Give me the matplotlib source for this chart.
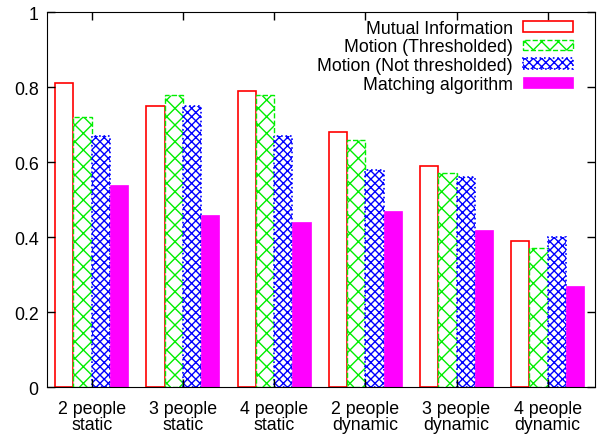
import numpy as np
import matplotlib.pyplot as plt

plt.rcParams['font.family'] = ['Liberation Sans', 'DejaVu Sans']
plt.rcParams['hatch.linewidth'] = 1.0

groups = ['2 people\nstatic', '3 people\nstatic', '4 people\nstatic',
          '2 people\ndynamic', '3 people\ndynamic', '4 people\ndynamic']
mutual_info = [0.81, 0.75, 0.79, 0.68, 0.59, 0.39]
motion_thr = [0.72, 0.78, 0.78, 0.66, 0.57, 0.37]
motion_nothr = [0.67, 0.75, 0.67, 0.58, 0.56, 0.40]
matching = [0.54, 0.46, 0.44, 0.47, 0.42, 0.27]

x = np.arange(len(groups))
w = 0.2

fig = plt.figure(figsize=(6.03, 4.35), dpi=100)
ax = fig.add_axes([0.078, 0.108, 0.909, 0.862])

ax.bar(x - 1.5 * w, mutual_info, w, facecolor='white', edgecolor='red',
       linewidth=1.2, label='Mutual Information')
ax.bar(x - 0.5 * w, motion_thr, w, facecolor='white', edgecolor='#00ee00',
       hatch='xx', linestyle='--', linewidth=1.0, label='Motion (Thresholded)')
ax.bar(x + 0.5 * w, motion_nothr, w, facecolor='white', edgecolor='blue',
       hatch='xxxx', linestyle=':', linewidth=1.2, label='Motion (Not thresholded)')
ax.bar(x + 1.5 * w, matching, w, facecolor='magenta', edgecolor='magenta',
       linewidth=0.5, label='Matching algorithm')

ax.set_xlim(-0.49, 5.52)
ax.set_ylim(0, 1)
ax.set_xticks(x)
ax.set_xticklabels(groups, fontsize=12.8, linespacing=0.95)
ax.set_yticks([0, 0.2, 0.4, 0.6, 0.8, 1.0])
ax.set_yticklabels(['0', '0.2', '0.4', '0.6', '0.8', '1'], fontsize=12.8)
ax.tick_params(direction='in', top=True, right=True, length=6, width=1, pad=6)
ax.tick_params(axis='x', pad=9)

leg = ax.legend(loc='upper right', bbox_to_anchor=(0.966, 0.989),
                frameon=False, markerfirst=False,
                fontsize=12.8, handlelength=2.8, handleheight=0.55,
                labelspacing=0.09, borderaxespad=0, handletextpad=0.6,
                borderpad=0.2)
for t in leg.get_texts():
    t.set_ha('right')

fig.savefig('out.png', dpi=100)
